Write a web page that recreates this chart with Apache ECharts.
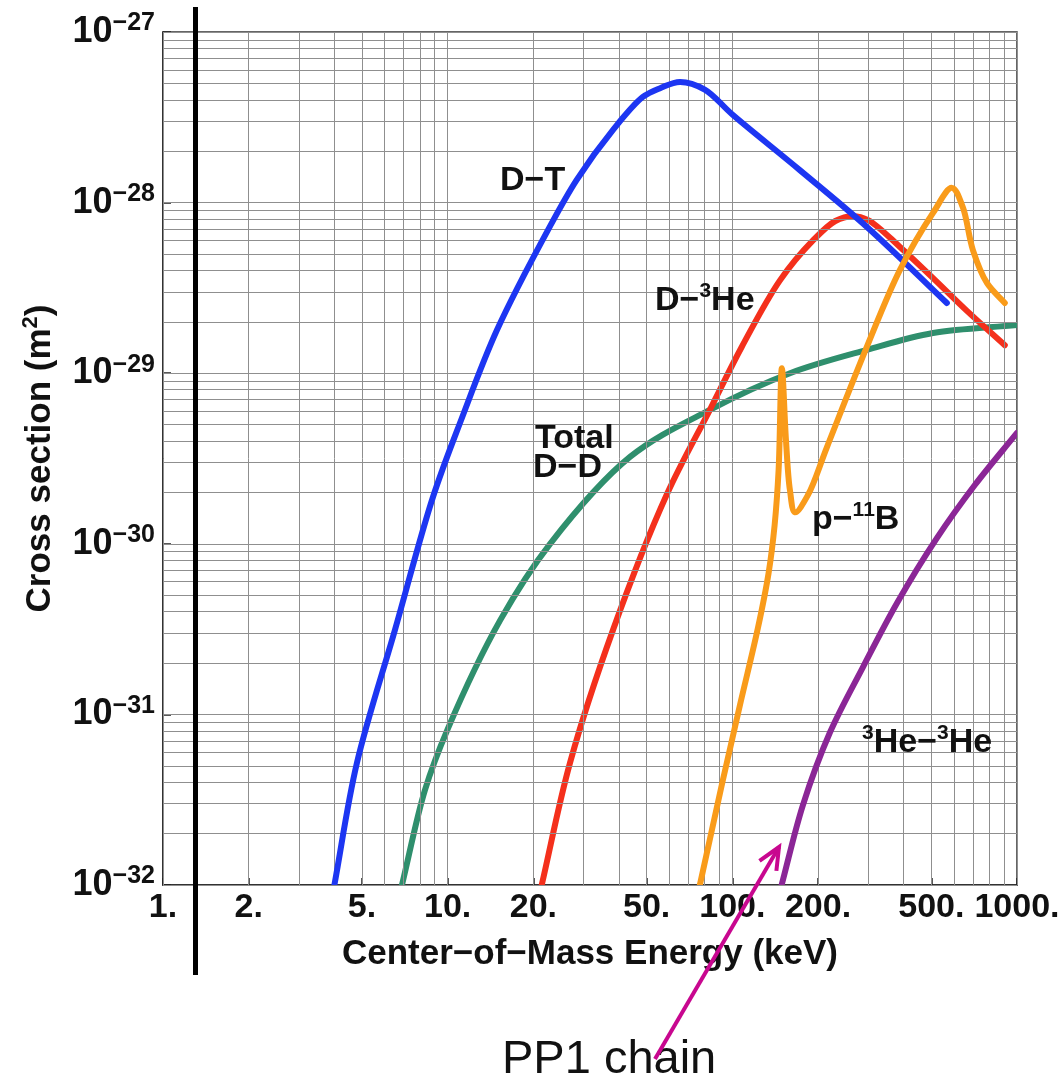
<!DOCTYPE html>
<html>
<head>
<meta charset="utf-8">
<script src="https://cdn.jsdelivr.net/npm/echarts@6/dist/echarts.min.js"></script>
<style>
  html, body { margin: 0; padding: 0; background: #ffffff; }
  #chart { width: 1064px; height: 1081px; }
</style>
</head>
<body>
<div id="chart"></div>
<script>
// Fusion cross sections vs. centre-of-mass energy (keV, m^2)
const dtEnergy   = [4.0, 4.8, 6.53, 8.88, 11.22, 14.9, 22.5, 28.4, 38.1, 48.5, 56, 65.5, 80, 100.5, 172.6, 297, 567];
const dtSigma    = [1e-32, 5.2e-32, 3.13e-31, 1.88e-30, 5.46e-30, 1.79e-29, 6.9e-29, 1.36e-28, 2.67e-28, 4.16e-28, 4.7e-28, 5.1e-28, 4.6e-28, 3.26e-28, 1.55e-28, 7.2e-29, 2.58e-29];

const dhe3Energy = [21.4, 26.9, 38.1, 58.9, 83.4, 108, 147, 192, 230, 265, 300, 388, 507, 667, 906];
const dhe3Sigma  = [1e-32, 5.2e-32, 3.13e-31, 1.95e-30, 6.1e-30, 1.43e-29, 3.5e-29, 6.0e-29, 7.8e-29, 8.33e-29, 7.9e-29, 5.5e-29, 3.61e-29, 2.32e-29, 1.46e-29];

const ddEnergy   = [6.91, 8.32, 10.0, 15.3, 22.9, 43.7, 83.4, 159.4, 297, 507, 1000];
const ddSigma    = [1e-32, 3.6e-32, 8.2e-32, 3.57e-31, 1.0e-30, 3.23e-30, 6.1e-30, 1.0e-29, 1.37e-29, 1.72e-29, 1.92e-29];

const pbEnergy   = [76.9, 90.5, 106.3, 123.0, 134.1, 140.8, 145.4, 149.3, 154.3, 159.3, 166, 184.3, 215, 297, 388, 507, 591, 645, 700, 784, 906];
const pbSigma    = [1e-32, 3.46e-32, 1.13e-31, 3.21e-31, 6.75e-31, 1.29e-30, 2.71e-30, 1.07e-29, 4.06e-30, 2.07e-30, 1.53e-30, 1.93e-30, 3.69e-30, 1.43e-29, 4.03e-29, 8.7e-29, 1.22e-28, 9.4e-29, 5.27e-29, 3.38e-29, 2.58e-29];

const he3Energy  = [149, 177, 220, 288, 379, 523, 711, 1000];
const he3Sigma   = [1e-32, 2.94e-32, 7.8e-32, 1.9e-31, 4.5e-31, 1.08e-30, 2.21e-30, 4.47e-30];

// Axis ticks
const xTickValues = [1, 2, 5, 10, 20, 50, 100, 200, 500, 1000];
const xTickLabels = ['1.', '2.', '5.', '10.', '20.', '50.', '100.', '200.', '500.', '1000.'];
const yTickExponents = [-32, -31, -30, -29, -28, -27];

const FONT = '"Liberation Sans", Arial, Helvetica, sans-serif';

// The y axis runs in units of 1e-32 m^2 so that the tiny cross sections
// stay clear of floating-point rounding inside the axis code.
const Y_UNIT = 1e-32;
const Y_UNIT_EXP = -32;
function pairs(xs, ys) { return xs.map((x, i) => [x, ys[i] / Y_UNIT]); }
const yTickValues = yTickExponents.map(e => Math.pow(10, e - Y_UNIT_EXP));

// log-paper grid: every integer step inside each decade
const xGrid = [];
[1, 10, 100].forEach(d => { for (let k = 1; k <= 9; k++) xGrid.push(k * d); });
xGrid.push(1000);
const yGrid = [];
[1, 10, 100, 1000, 10000].forEach(d => { for (let k = 1; k <= 9; k++) yGrid.push(k * d); });
yGrid.push(100000);

function matchIndex(list, v) {
  let best = 0, bd = Infinity;
  list.forEach((t, i) => {
    const d = Math.abs(Math.log10(t) - Math.log10(v));
    if (d < bd) { bd = d; best = i; }
  });
  return best;
}

// Centripetal Catmull-Rom through screen points, written as cubic Bezier segments
function splinePath(pts) {
  const n = pts.length;
  const ext = [[2 * pts[0][0] - pts[1][0], 2 * pts[0][1] - pts[1][1]]]
    .concat(pts, [[2 * pts[n - 1][0] - pts[n - 2][0], 2 * pts[n - 1][1] - pts[n - 2][1]]]);
  const dist = (p, q) => Math.max(1e-6, Math.pow(Math.hypot(q[0] - p[0], q[1] - p[1]), 0.5));
  let d = 'M' + pts[0][0].toFixed(2) + ' ' + pts[0][1].toFixed(2);
  for (let i = 1; i < ext.length - 2; i++) {
    const p0 = ext[i - 1], p1 = ext[i], p2 = ext[i + 1], p3 = ext[i + 2];
    const d1 = dist(p0, p1), d2 = dist(p1, p2), d3 = dist(p2, p3);
    const c1 = [0, 1].map(k => (d1 * d1 * p2[k] - d2 * d2 * p0[k] + (2 * d1 * d1 + 3 * d1 * d2 + d2 * d2) * p1[k]) / (3 * d1 * (d1 + d2)));
    const c2 = [0, 1].map(k => (d3 * d3 * p1[k] - d2 * d2 * p3[k] + (2 * d3 * d3 + 3 * d3 * d2 + d2 * d2) * p2[k]) / (3 * d3 * (d3 + d2)));
    d += ' C' + c1[0].toFixed(2) + ' ' + c1[1].toFixed(2) + ' ' + c2[0].toFixed(2) + ' ' + c2[1].toFixed(2) +
         ' ' + p2[0].toFixed(2) + ' ' + p2[1].toFixed(2);
  }
  return d;
}

const chart = echarts.init(document.getElementById('chart'), null, { renderer: 'canvas' });

function curve(name, data, color, z) {
  return {
    name: name, type: 'custom', coordinateSystem: 'cartesian2d', data: data, z: z,
    clip: true, silent: true, animation: false,
    encode: { x: 0, y: 1 },
    renderItem: function (params, api) {
      if (params.dataIndex !== 0) return null;
      const pts = data.map(p => api.coord(p));
      return {
        type: 'path', silent: true,
        shape: { pathData: splinePath(pts) },
        style: { stroke: color, lineWidth: 6, fill: null, lineCap: 'round', lineJoin: 'round' }
      };
    }
  };
}

const labelBase = { fontFamily: FONT, fontWeight: 'bold', fontSize: 34, color: '#111', lineHeight: 40 };
const labelSup = { fontFamily: FONT, fontWeight: 'bold', fontSize: 21, color: '#111', lineHeight: 16, verticalAlign: 'top' };

function plotText(x, y, text) {
  return {
    type: 'text', x: x, y: y, z: 50, silent: true,
    style: { text: text, fontFamily: FONT, fontWeight: 'bold', fontSize: 34, fill: '#111',
             verticalAlign: 'middle', align: 'left',
             rich: { b: labelBase, s: labelSup } }
  };
}

// PP1 chain pointer
const arrowTail = [655, 1059];
const arrowTip = [779, 847];
const adx = arrowTip[0] - arrowTail[0], ady = arrowTip[1] - arrowTail[1];
const alen = Math.sqrt(adx * adx + ady * ady);
const ux = adx / alen, uy = ady / alen;
const barb = 24, ang = 0.42;
function rot(x, y, a) { return [x * Math.cos(a) - y * Math.sin(a), x * Math.sin(a) + y * Math.cos(a)]; }
const b1 = rot(-ux * barb, -uy * barb, ang), b2 = rot(-ux * barb, -uy * barb, -ang);

const option = {
  backgroundColor: '#ffffff',
  animation: false,
  grid: { left: 163, top: 32, right: 47, bottom: 196, show: true, borderColor: '#333', borderWidth: 1.5, backgroundColor: 'transparent' },
  xAxis: {
    type: 'log', logBase: 10, min: 1, max: 1000,
    name: 'Center−of−Mass Energy (keV)',
    nameLocation: 'middle', nameGap: 52,
    nameTextStyle: { fontFamily: FONT, fontWeight: 'bold', fontSize: 35, color: '#111' },
    axisLine: { show: true, lineStyle: { color: '#222', width: 1.5 } },
    axisTick: { show: true, inside: true, length: 7, customValues: xTickValues, lineStyle: { color: '#222', width: 1.5 } },
    axisLabel: {
      show: true, margin: 6, customValues: xTickValues,
      fontFamily: FONT, fontWeight: 'bold', fontSize: 34, color: '#111',
      formatter: v => xTickLabels[matchIndex(xTickValues, v)]
    },
    splitLine: { show: false }, minorTick: { show: false }, minorSplitLine: { show: false }
  },
  yAxis: {
    type: 'log', logBase: 10, min: yTickValues[0], max: yTickValues[yTickValues.length - 1],
    name: '{n|Cross section (m}{s|2}{n|)}',
    nameLocation: 'middle', nameGap: 103, nameRotate: 90,
    nameTextStyle: {
      rich: {
        n: { fontFamily: FONT, fontWeight: 'bold', fontSize: 35, color: '#111', lineHeight: 40 },
        s: { fontFamily: FONT, fontWeight: 'bold', fontSize: 22, color: '#111', lineHeight: 16, verticalAlign: 'top' }
      }
    },
    axisLine: { show: true, lineStyle: { color: '#222', width: 1.5 } },
    axisTick: { show: true, inside: true, length: 8, customValues: yTickValues, lineStyle: { color: '#222', width: 1.5 } },
    axisLabel: {
      show: true, margin: 8, customValues: yTickValues,
      formatter: v => '{b|10}{s|−' + Math.abs(yTickExponents[matchIndex(yTickValues, v)]) + '}',
      rich: {
        b: { fontFamily: FONT, fontWeight: 'bold', fontSize: 36, color: '#111', lineHeight: 42 },
        s: { fontFamily: FONT, fontWeight: 'bold', fontSize: 25, color: '#111', lineHeight: 16, verticalAlign: 'top' }
      }
    },
    splitLine: { show: false }, minorTick: { show: false }, minorSplitLine: { show: false }
  },
  series: [
    {
      name: 'grid', type: 'line', data: [], z: 1, silent: true, animation: false,
      markLine: {
        silent: true, animation: false, symbol: ['none', 'none'],
        label: { show: false },
        lineStyle: { color: '#8f8f8f', width: 1, type: 'solid' },
        emphasis: { disabled: true },
        data: xGrid.map(v => ({ xAxis: v })).concat(yGrid.map(v => ({ yAxis: v })))
      }
    },
    curve('Total D−D', pairs(ddEnergy, ddSigma), '#2f8f6d', 3),
    curve('D−3He', pairs(dhe3Energy, dhe3Sigma), '#f4301c', 4),
    curve('D−T', pairs(dtEnergy, dtSigma), '#1d36f2', 5),
    curve('p−11B', pairs(pbEnergy, pbSigma), '#f99b1a', 6),
    curve('3He−3He', pairs(he3Energy, he3Sigma), '#8b2696', 7)
  ],
  graphic: [
    { type: 'rect', z: 60, silent: true, shape: { x: 193, y: 7, width: 5, height: 968 }, style: { fill: '#000' } },
    plotText(500, 181, '{b|D−T}'),
    plotText(655, 301, '{b|D−}{s|3}{b|He}'),
    plotText(535, 439, '{b|Total}'),
    plotText(533, 468, '{b|D−D}'),
    plotText(812, 520, '{b|p−}{s|11}{b|B}'),
    plotText(862, 743, '{s|3}{b|He−}{s|3}{b|He}'),
    {
      type: 'text', x: 502, y: 1060, z: 50, silent: true,
      style: { text: 'PP1 chain', fontFamily: FONT, fontSize: 47, fill: '#111', verticalAlign: 'middle', align: 'left' }
    },
    {
      type: 'line', z: 55, silent: true,
      shape: { x1: arrowTail[0], y1: arrowTail[1], x2: arrowTip[0], y2: arrowTip[1] },
      style: { stroke: '#c8078f', lineWidth: 4 }
    },
    {
      type: 'polyline', z: 55, silent: true,
      shape: { points: [[arrowTip[0] + b1[0], arrowTip[1] + b1[1]], arrowTip, [arrowTip[0] + b2[0], arrowTip[1] + b2[1]]] },
      style: { stroke: '#c8078f', lineWidth: 4, fill: null, lineJoin: 'miter' }
    }
  ]
};

chart.setOption(option);
</script>
</body>
</html>
